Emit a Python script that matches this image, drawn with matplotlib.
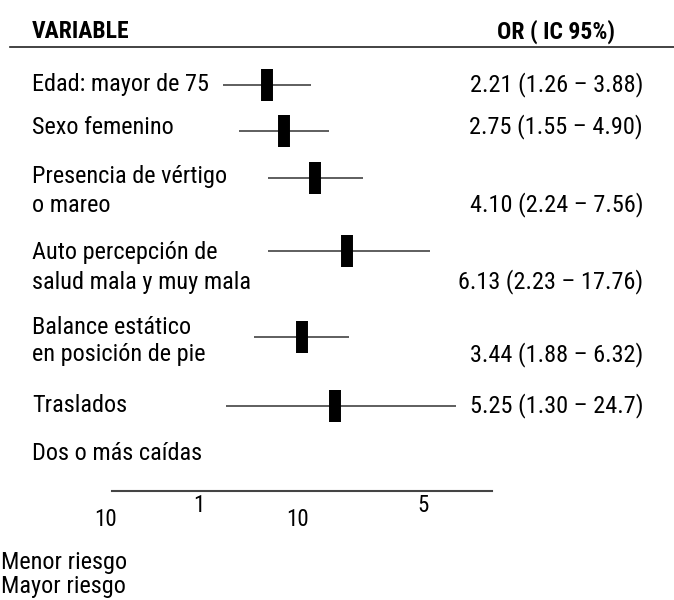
import matplotlib.pyplot as plt

# odds ratios and 95% CI
variables = [
    "Edad: mayor de 75",
    "Sexo femenino",
    "Presencia de vértigo\no mareo",
    "Auto percepción de\nsalud mala y muy mala",
    "Balance estático\nen posición de pie",
    "Traslados",
    "Dos o más caídas",
]
odds = [2.21, 2.75, 4.10, 6.13, 3.44, 5.25, None]
ci_low = [1.26, 1.55, 2.24, 2.23, 1.88, 1.30, None]
ci_high = [3.88, 4.90, 7.56, 17.76, 6.32, 24.7, None]
or_labels = [
    "2.21 (1.26 – 3.88)",
    "2.75 (1.55 – 4.90)",
    "4.10 (2.24 – 7.56)",
    "6.13 (2.23 – 17.76)",
    "3.44 (1.88 – 6.32)",
    "5.25 (1.30 – 24.7)",
    "",
]
tick_labels = ["10", "1", "10", "5"]
risk_labels = ["Menor riesgo", "Mayor riesgo"]

plt.rcParams["font.family"] = ["Roboto Condensed", "DejaVu Sans"]
fs = 17.5

W, H = 674, 600
fig = plt.figure(figsize=(W / 100, H / 100), dpi=100)
ax = fig.add_axes([0, 0, 1, 1])
ax.set_xscale("log")
# log scale: 1 sits near x=205 px, ~180 px per decade
ax.set_xlim(10 ** (-205 / 180), 10 ** ((W - 205) / 180))
ax.set_ylim(H, 0)
ax.axis("off")


def fx(px):
    return px / W


# layout (pixel rows)
line_y = [85, 131, 178, 251, 337, 406, None]
label_y = [85, 127, 176, 253, 327, 406, 453]
or_y = [85, 127, 205, 282, 355, 406, None]

blend = ax.get_yaxis_transform()  # x in axes fraction, y in data
ax.text(fx(32), 32, "VARIABLE", transform=blend, fontsize=17, fontweight="bold", va="center")
ax.text(fx(615), 32, "OR ( IC 95%)", transform=blend, fontsize=17, fontweight="bold",
        va="center", ha="right")
ax.axhline(47, xmin=fx(10), xmax=1, color="#222222", lw=1.2)

for i, name in enumerate(variables):
    parts = name.split("\n")
    ys = [label_y[i]] if len(parts) == 1 else [label_y[i], or_y[i]]
    for part, y in zip(parts, ys):
        ax.text(fx(32), y, part, transform=blend, fontsize=fs, va="center")
    if odds[i] is None:
        continue
    ax.hlines(line_y[i], ci_low[i], ci_high[i], color="#333333", lw=1.1)
    ax.vlines(odds[i], line_y[i] - 16, line_y[i] + 16, color="black", lw=8.6, capstyle="butt")
    ax.text(fx(643), or_y[i], or_labels[i], transform=blend, fontsize=fs, va="center", ha="right")

# bottom scale
ax.axhline(491, xmin=fx(112), xmax=fx(492), color="#444444", lw=1.5)
tick_x = [105, 199, 297, 423]
tick_y = [519, 506, 519, 506]
for t, tx, ty in zip(tick_labels, tick_x, tick_y):
    ax.text(fx(tx), ty, t, transform=blend, fontsize=fs - 1, va="center", ha="center")

for k, r in enumerate(risk_labels):
    ax.text(fx(1), 562 + k * 25, r, transform=blend, fontsize=fs, va="center")

fig.savefig("out.png", dpi=100)
